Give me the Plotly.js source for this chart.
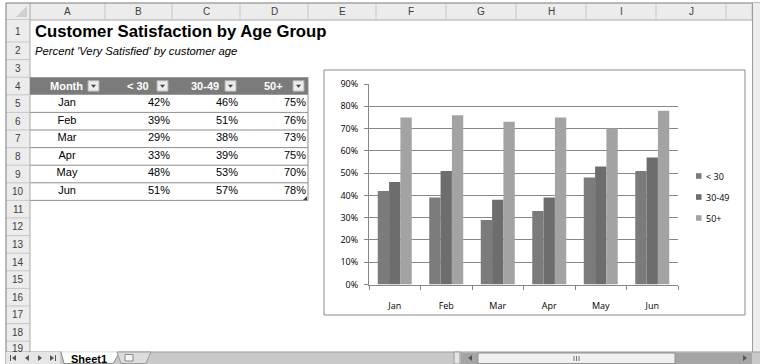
<!DOCTYPE html>
<html><head><meta charset="utf-8">
<script src="https://cdn.plot.ly/plotly-3.0.1.min.js"></script>
<style>html,body{margin:0;padding:0;background:#fff;overflow:hidden}#chart{width:760px;height:364px}</style>
</head><body><div id="chart"></div>
<script>
// ---------- data ----------
const months = ['Jan','Feb','Mar','Apr','May','Jun'];
const seriesNames = ['< 30','30-49','50+'];
const under30 = [0.42,0.39,0.29,0.33,0.48,0.51];
const age30to49 = [0.46,0.51,0.38,0.39,0.53,0.57];
const age50plus = [0.75,0.76,0.73,0.75,0.70,0.78];
const yTicks = [0,0.1,0.2,0.3,0.4,0.5,0.6,0.7,0.8,0.9];
const tableHeader = ['Month','< 30','30-49','50+'];
const colLetters = ['A','B','C','D','E','F','G','H','I','J'];
const rowNumbers = [1,2,3,4,5,6,7,8,9,10,11,12,13,14,15,16,17,18,19];
const titleText = 'Customer Satisfaction by Age Group';
const subtitleText = "Percent 'Very Satisfied' by customer age";
const sheetName = 'Sheet1';

// ---------- geometry / styles ----------
const W = 760, H = 364;
const px = x => x / W, py = y => 1 - y / H;
const esc = s => s.replace(/&/g,'&amp;').replace(/</g,'&lt;').replace(/>/g,'&gt;');
const colEdges = [30,105,172,240,308,376,446,516,586,656,726];
const rowTop = n => n === 1 ? 20 : 42 + (n - 2) * 17.6;
const seriesColors = ['#7b7b7b','#6d6d6d','#a3a3a3'];
const headerGray = '#7b7b7b';
const arial = 'Liberation Sans, Arial, sans-serif';
const chartFont = 'Open Sans, DejaVu Sans, sans-serif';
const gridGray = '#878787';

const shapes = [];
const annotations = [];
const rect = (x0,y0,x1,y1,fill,line,lw,layer) => shapes.push({type:'rect',xref:'paper',yref:'paper',
  x0:px(x0),x1:px(x1),y0:py(y1),y1:py(y0),fillcolor:fill||'rgba(0,0,0,0)',
  line:{color:line||'rgba(0,0,0,0)',width:line?(lw||1):0},layer:layer||'below'});
const line = (x0,y0,x1,y1,color,lw,layer) => shapes.push({type:'line',xref:'paper',yref:'paper',
  x0:px(x0),x1:px(x1),y0:py(y0),y1:py(y1),line:{color:color,width:lw||1},layer:layer||'below'});
const path = (pts,fill,layer,lineColor) => shapes.push({type:'path',xref:'paper',yref:'paper',
  path:'M'+pts.map(p=>px(p[0])+','+py(p[1])).join('L')+'Z',fillcolor:fill,
  line:{color:lineColor||fill,width:lineColor?1:0},layer:layer||'above'});
const text = (x,y,t,opts) => annotations.push(Object.assign({xref:'paper',yref:'paper',x:px(x),y:py(y),
  text:t,showarrow:false,xanchor:'center',yanchor:'middle',font:{family:arial,size:10,color:'#3a3a3a'}},opts||{}));

// ---- spreadsheet chrome ----
rect(6,3,752,20,'#ececec');
line(6,20,752,20,'#a9a9a9');
for (let i = 1; i < colEdges.length; i++) line(colEdges[i],3,colEdges[i],20,'#c6c6c6');
line(752,3,752,20,'#c6c6c6');
colLetters.forEach((c,i)=> text((colEdges[i]+colEdges[i+1])/2, 11.5, c, {font:{family:arial,size:10,color:'#404040'}}));
rect(6,20,30,352,'#ececec');
line(30,3,30,352,'#a9a9a9');
rowNumbers.forEach(n=>{
  const t = rowTop(n), b = rowTop(n+1);
  line(6,b,30,b,'#c6c6c6');
  text(18, Math.min((t+b)/2, 348), String(n), {font:{family:arial,size:10,color:'#404040'}});
});
path([[27,6],[27,17],[16,17]],'#cfcfcf','below');
line(6,3,760,3,'#7a7a7a');
line(6,3,6,364,'#7a7a7a');
rect(752,3,760,352,'#ededed');
line(752.5,3,752.5,352,'#9c9c9c');

text(33,31,'<b>'+esc(titleText)+'</b>',{xanchor:'left',font:{family:arial,size:16.7,color:'#000'}});
text(33,51,'<i>'+esc(subtitleText)+'</i>',{xanchor:'left',font:{family:arial,size:11.3,color:'#000'}});

// ---- data table: header row (fill + labels + filter buttons), body as Plotly table trace ----
const tRow = 17.6, tTop = rowTop(4), tBottom = rowTop(11), textLift = 1, hiddenHeader = 20;
const cellPad = 8, cellRightGap = 2;   // compensate the table's internal text padding
const bodyTop = tTop + tRow;
const domTop = bodyTop - textLift - hiddenHeader;
const shift = cellPad - cellRightGap;
const tRight = colEdges[4] + shift;
const monthCenter = (colEdges[0] + colEdges[1]) / 2 - 0.5;
const aRight = colEdges[1] + shift;
const tLeft = 2 * monthCenter - aRight;
const tableTrace = {
  type:'table',
  domain:{x:[px(tLeft),px(tRight)], y:[py(domTop + hiddenHeader + tRow*months.length + 4), py(domTop)]},
  columnwidth:[aRight - tLeft, colEdges[2]-colEdges[1], colEdges[3]-colEdges[2], colEdges[4]-colEdges[3]],
  header:{values:[], height:hiddenHeader, fill:{color:'rgba(0,0,0,0)'}, line:{color:'rgba(0,0,0,0)',width:0}},
  cells:{
    values:[months, under30, age30to49, age50plus], format:['','.0%','.0%','.0%'],
    align:['center','right','right','right'], height:tRow,
    fill:{color:'rgba(0,0,0,0)'}, line:{color:'rgba(0,0,0,0)',width:0},
    font:{family:arial,size:11,color:'#000000'}
  }
};
rect(30, tTop, 308, tTop + tRow, headerGray, null, 0, 'below');
tableHeader.forEach((h,i)=>{
  const cx = (colEdges[i] + colEdges[i+1]) / 2 - (i===0 ? 1.5 : 1);
  text(cx, tTop + tRow/2, '<b>'+esc(h)+'</b>', {font:{family:arial,size:11,color:'#ffffff'}});
  const r = colEdges[i+1] - (i===0 ? 6 : 4);
  rect(r-11, tTop+3.5, r, tTop+14, '#ececec', '#b0b0b0', 1, 'above');
  path([[r-8,tTop+7.5],[r-3,tTop+7.5],[r-5.5,tTop+10.5]],'#404040','above');
});
for (let r = 0; r < months.length; r++) {
  const yb = bodyTop + tRow * (r + 1);
  line(30, yb, 308, yb, '#8e8e8e', 1, 'above');
}
line(308, tTop, 308, tBottom, '#8e8e8e', 1, 'above');
path([[307,196],[307,200],[303,200]],'#404040','above');

// ---- chart frame ----
rect(324,70,745,315,'#ffffff','#8a8a8a',1,'below');

const legendY = [176,197,218];
seriesNames.forEach((s,i)=>{
  rect(696, legendY[i]-2.8, 701.5, legendY[i]+2.8, seriesColors[i], null, 0, 'above');
  text(704, legendY[i], esc(s), {xanchor:'left', font:{family:chartFont,size:9,color:'#000'}});
});

// ---- tab bar ----
rect(6,352,760,364,'#c9c9c9');
line(6,352,760,352,'#9a9a9a');
rect(6,352,60,364,'#e6e6e6');
line(10.5,355,10.5,361,'#555',1,'above'); path([[16,355],[16,361],[12,358]],'#555');
path([[29,355],[29,361],[25,358]],'#555');
path([[38,355],[38,361],[42,358]],'#555');
path([[50,355],[50,361],[54,358]],'#555'); line(55.5,355,55.5,361,'#555',1,'above');
path([[61,352],[64,363.5],[113,363.5],[120,352]],'#ffffff','above','#8a8a8a');
line(61.5,352,119.5,352,'#ffffff',1.5,'above');
text(89,358.5,'<b>'+esc(sheetName)+'</b>',{font:{family:arial,size:11,color:'#000'}});
path([[117,352],[121,363.5],[146,363.5],[151,352]],'#dcdcdc','above','#9a9a9a');
rect(125,354.5,133,361,'#f4f4f4','#8a8a8a',1,'above');
rect(454,352,460,364,'#e4e4e4','#9a9a9a',1,'above');
rect(461,353,752,364,'#a5a5a5');
path([[472,355],[472,361],[468,358]],'#555');
rect(478,353,675,363.5,'#f1f1f1','#8f8f8f',1,'above');
line(574,356,574,361,'#777',1,'above'); line(576.5,356,576.5,361,'#777',1,'above'); line(579,356,579,361,'#777',1,'above');
path([[743,355],[743,361],[747,358]],'#555');

// ---- bars ----
const seriesData = [under30, age30to49, age50plus];
const barTraces = seriesData.map((vals,i)=>({
  type:'bar', name:seriesNames[i], x:months, y:vals,
  marker:{color:seriesColors[i], line:{width:0}}, showlegend:false, hoverinfo:'skip',
  xaxis:'x', yaxis:'y'
}));

const layout = {
  width:W, height:H, margin:{l:0,r:0,t:0,b:0}, paper_bgcolor:'#ffffff', plot_bgcolor:'rgba(0,0,0,0)',
  showlegend:false, barmode:'group', bargap:0.34, bargroupgap:0,
  xaxis:{domain:[px(369),px(678)], type:'category', showline:true, linecolor:gridGray, linewidth:1,
    ticks:'outside', tickson:'boundaries', ticklen:4, tickcolor:gridGray, showgrid:false, zeroline:false,
    tickfont:{family:chartFont,size:9,color:'#000'}, ticklabelstandoff:13, fixedrange:true},
  yaxis:{domain:[py(284.5),py(84)], range:[0,0.9], tickvals:yTicks, tickformat:'.0%',
    showline:true, linecolor:gridGray, linewidth:1, ticks:'outside', ticklen:4, tickcolor:gridGray,
    showgrid:true, gridcolor:gridGray, gridwidth:1, zeroline:false,
    tickfont:{family:chartFont,size:9,color:'#000'}, ticklabelstandoff:4, fixedrange:true},
  shapes:shapes, annotations:annotations
};

Plotly.newPlot('chart', [...barTraces, tableTrace], layout, {displayModeBar:false, staticPlot:true});
</script></body></html>
